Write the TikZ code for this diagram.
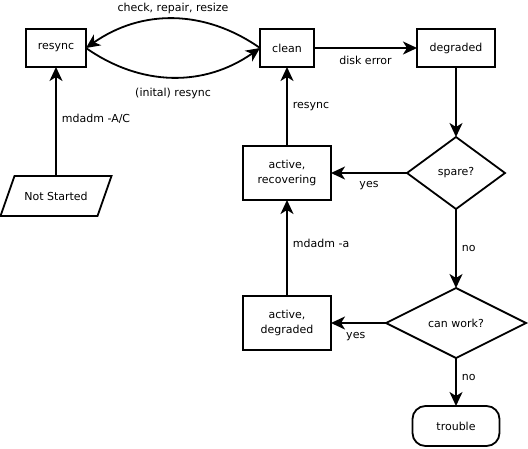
\documentclass[tikz,border=0pt]{standalone}
\usepackage{fontspec}
\setmainfont{DejaVu Sans}
\usetikzlibrary{arrows.meta,shapes.geometric}
\tikzset{
  base/.style={draw, line width=1.8pt, inner sep=0pt, outer sep=0pt, align=center, font=\fontsize{11}{15}\selectfont},
  box/.style={base, rectangle, minimum width=#1, minimum height=38pt},
  bigbox/.style={base, rectangle, minimum width=88pt, minimum height=54pt},
  dia/.style={base, diamond, aspect=1.4},
  paratext/.style={inner sep=0pt, outer sep=0pt, align=center, font=\fontsize{11}{15}\selectfont, minimum width=97pt, minimum height=40pt},
  paraline/.style={line width=1.8pt},
  term/.style={base, rectangle, rounded corners=13pt, minimum width=87pt, minimum height=40pt},
  conn/.style={line width=1.8pt, -{Stealth[length=14pt,width=13pt,inset=4pt]}},
  lbl/.style={font=\fontsize{11}{13}\selectfont, inner sep=0pt}
}
\begin{document}
\begin{tikzpicture}[x=1pt,y=1pt]
\useasboundingbox (0,0) rectangle (528,-448);
\node[box=60pt] (resync) at (56,-48) {resync};
\node[box=54pt] (clean) at (287,-48) {clean};
\node[box=78pt] (degraded) at (456,-48) {degraded};
\node[paratext] (ns) at (56,-196) {Not Started};
\draw[paraline] ([xshift=7pt]ns.north west) -- ([xshift=7pt]ns.north east) -- ([xshift=-7pt]ns.south east) -- ([xshift=-7pt]ns.south west) -- cycle;
\node[bigbox] (recov) at (287,-173) {active,\\recovering};
\node[dia, minimum width=98pt, minimum height=72pt] (spare) at (456,-173) {spare?};
\node[bigbox] (actdeg) at (287,-323) {active,\\degraded};
\node[dia, minimum width=140pt, minimum height=70pt] (canwork) at (456,-323) {can work?};
\node[term] (trouble) at (456,-426) {trouble};

\draw[conn] (ns.north) -- node[lbl, right=5pt, pos=0.52] {mdadm -A/C} (resync.south);
\draw[conn] (clean.west) to[out=145,in=35] node[lbl, above=4pt] {check, repair, resize} (resync.east);
\draw[conn] (resync.east) to[out=-35,in=-145] node[lbl, below=10pt] {(inital) resync} (clean.west);
\draw[conn] (clean.east) -- node[lbl, below=7pt] {disk error} (degraded.west);
\draw[conn] (degraded.south) -- (spare.north);
\draw[conn] (spare.west) -- node[lbl, below=7pt] {yes} (recov.east);
\draw[conn] (recov.north) -- node[lbl, right=5pt] {resync} (clean.south);
\draw[conn] (spare.south) -- node[lbl, right=5pt] {no} (canwork.north);
\draw[conn] (actdeg.north) -- node[lbl, right=5pt, pos=0.55] {mdadm -a} (recov.south);
\draw[conn] (canwork.west) -- node[lbl, below=8pt, pos=0.55] {yes} (actdeg.east);
\draw[conn] (canwork.south) -- node[lbl, right=5pt, pos=0.4] {no} (trouble.north);
\end{tikzpicture}
\end{document}
